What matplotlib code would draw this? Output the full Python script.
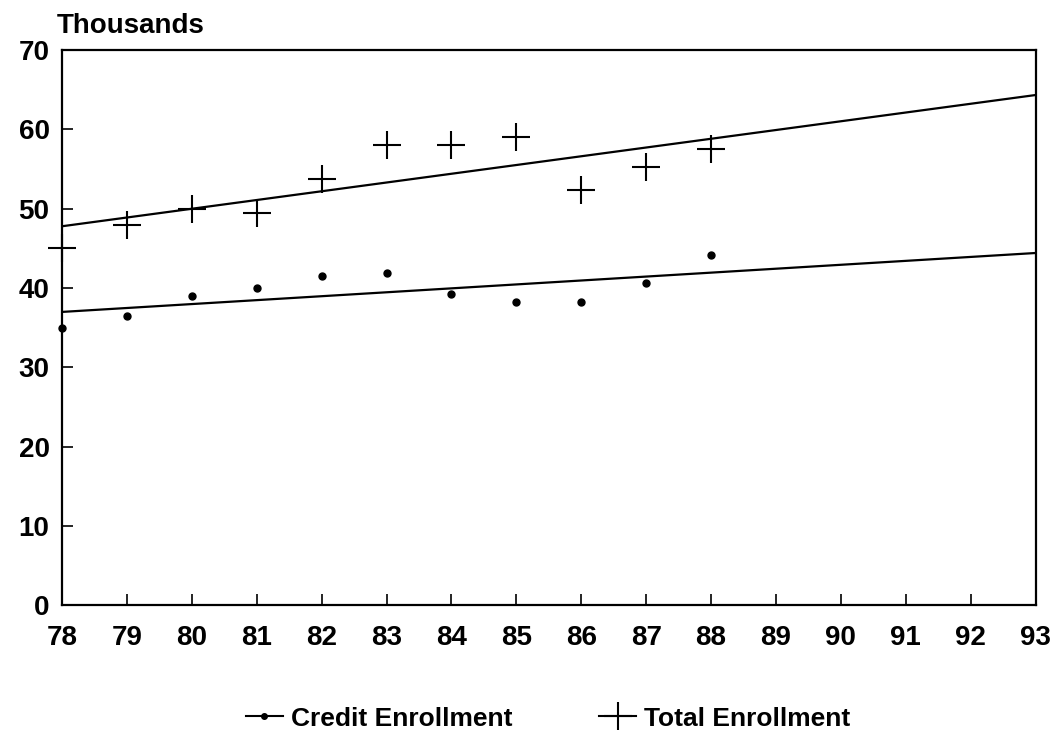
import numpy as np
import matplotlib
matplotlib.use("Agg")
import matplotlib.pyplot as plt
from matplotlib.lines import Line2D

# school years (19xx)
years = [78, 79, 80, 81, 82, 83, 84, 85, 86, 87, 88]
credit = [34.9, 36.4, 39.0, 40.0, 41.5, 41.9, 39.2, 38.2, 38.2, 40.6, 44.1]
total = [45.0, 48.0, 50.0, 49.5, 53.8, 58.0, 58.0, 59.0, 52.3, 55.2, 57.5]
x_ticks = list(range(78, 94))
y_ticks = [0, 10, 20, 30, 40, 50, 60, 70]

plt.rcParams['font.family'] = ['Liberation Sans', 'DejaVu Sans']
plt.rcParams['font.weight'] = 'bold'

fig = plt.figure(figsize=(10.6, 7.37), dpi=100)
ax = fig.add_axes([0.0585, 0.179, 0.9185, 0.753])

# trend lines (least squares, extended to 93)
fit_x = np.array([x_ticks[0], x_ticks[-1]])
for vals in (credit, total):
    k, b = np.polyfit(years, vals, 1)
    ax.plot(fit_x, k * fit_x + b, color='black', linewidth=1.6, zorder=2)

ax.plot(years, credit, linestyle='none', marker='o', markersize=5,
        color='black', clip_on=False, zorder=3)
ax.plot(years, total, linestyle='none', marker='+', markersize=20,
        markeredgewidth=1.5, color='black', clip_on=False, zorder=3)

ax.set_xlim(78, 93)
ax.set_ylim(0, 70)
ax.set_xticks(x_ticks)
ax.set_yticks(y_ticks)
ax.tick_params(direction='in', length=8, width=1.2, labelsize=20)
ax.tick_params(axis='x', pad=14)
ax.tick_params(axis='y', pad=9)
for lab in ax.get_xticklabels() + ax.get_yticklabels():
    lab.set_fontweight('bold')
for s in ax.spines.values():
    s.set_linewidth(1.6)

fig.text(0.054, 0.955, 'Thousands', fontsize=20, fontweight='bold',
         ha='left', va='baseline')

handles = [
    Line2D([], [], color='black', linewidth=1.5, marker='o', markersize=4),
    Line2D([], [], color='black', linewidth=1.5, marker='+', markersize=20,
           markeredgewidth=1.5),
]
fig.legend(handles, ['Credit Enrollment', 'Total Enrollment'], loc='center',
           bbox_to_anchor=(0.517, 0.025), ncol=2, frameon=False,
           prop={'size': 19, 'weight': 'bold'}, handlelength=1.4,
           columnspacing=3.3, handletextpad=0.3)

fig.savefig('out.png', dpi=100)
